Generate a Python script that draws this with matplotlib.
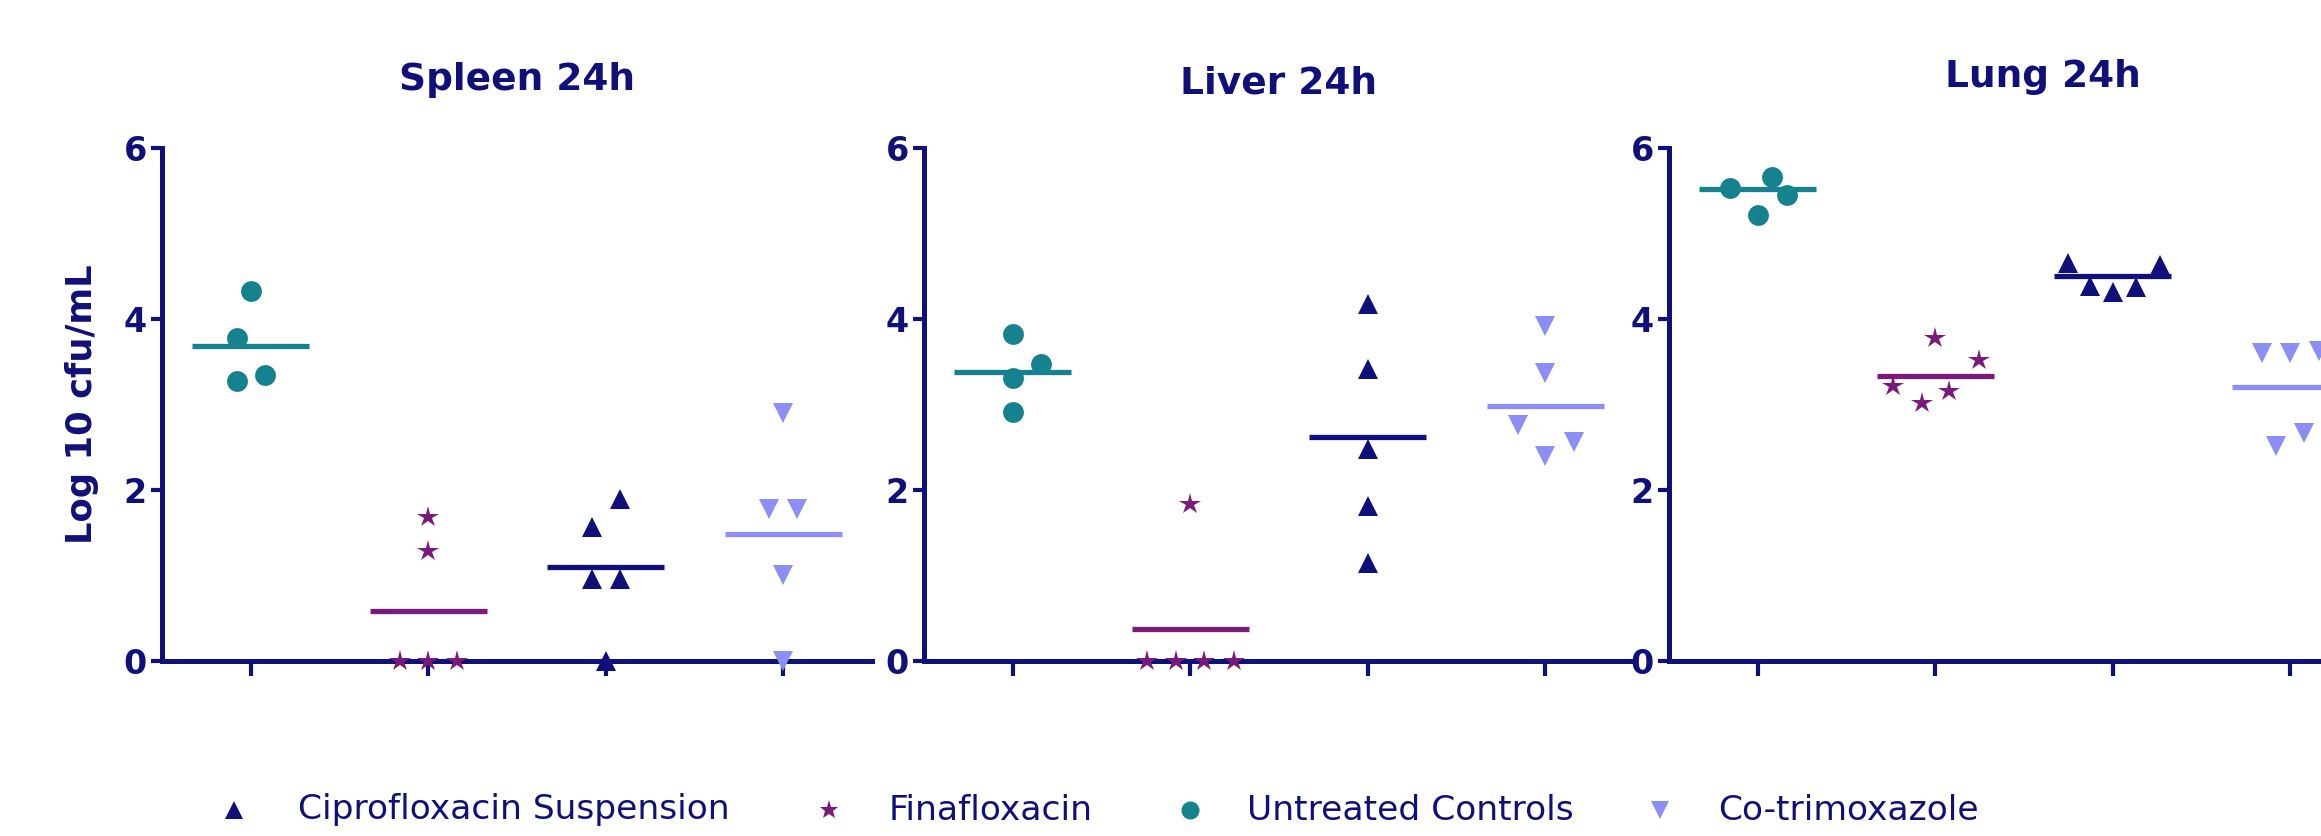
import numpy as np
import matplotlib.pyplot as plt

plt.rcParams['font.family'] = ['DejaVu Sans']

# colours taken from the figure
NAVY = '#10107a'
TEAL = '#16818f'
PURPLE = '#7a1a7a'
LIGHT = '#8a8ef5'

# group order on the x axis
groups = ['Untreated Controls', 'Finafloxacin', 'Ciprofloxacin Suspension', 'Co-trimoxazole']
panel_titles = ['Spleen 24h', 'Liver 24h', 'Lung 24h']

# log10 cfu/mL per animal, one list per group (order as in groups)
spleen = [
    [4.33, 3.78, 3.27, 3.35],
    [1.68, 1.29, 0.0, 0.0, 0.0],
    [1.90, 1.57, 0.96, 0.96, 0.0],
    [2.90, 1.78, 1.78, 1.01, 0.0],
]
liver = [
    [3.82, 3.47, 3.31, 2.91],
    [1.84, 0.0, 0.0, 0.0, 0.0],
    [4.17, 3.41, 2.48, 1.81, 1.15],
    [3.92, 3.37, 2.76, 2.56, 2.40],
]
lung = [
    [5.53, 5.66, 5.45, 5.22],
    [3.78, 3.52, 3.22, 3.16, 3.02],
    [4.66, 4.63, 4.39, 4.38, 4.32],
    [3.60, 3.60, 3.63, 2.51, 2.67],
]

# group means as drawn (horizontal bars)
spleen_mean = [3.69, 0.59, 1.10, 1.48]
liver_mean = [3.38, 0.37, 2.62, 2.98]
lung_mean = [5.52, 3.33, 4.50, 3.20]

# horizontal scatter of the points inside each group
spleen_dx = [
    [0.0, -0.08, -0.08, 0.08],
    [0.0, 0.0, -0.16, 0.0, 0.16],
    [0.08, -0.08, -0.08, 0.08, 0.0],
    [0.0, -0.08, 0.08, 0.0, 0.0],
]
liver_dx = [
    [0.0, 0.16, 0.0, 0.0],
    [0.0, -0.245, -0.08, 0.08, 0.245],
    [0.0, 0.0, 0.0, 0.0, 0.0],
    [0.0, 0.0, -0.155, 0.16, 0.0],
]
lung_dx = [
    [-0.156, 0.083, 0.164, 0.0],
    [0.0, 0.245, -0.24, 0.08, -0.076],
    [-0.252, 0.264, -0.126, 0.131, 0.0],
    [-0.16, 0.0, 0.16, -0.08, 0.08],
]

styles = {
    'Untreated Controls': dict(marker='o', color=TEAL, ms=15),
    'Finafloxacin': dict(marker='*', color=PURPLE, ms=16),
    'Ciprofloxacin Suspension': dict(marker='^', color=NAVY, ms=15),
    'Co-trimoxazole': dict(marker='v', color=LIGHT, ms=15),
}

W, H = 2321, 836
fig = plt.figure(figsize=(W / 100, H / 100), dpi=100)

ax_left_px = [162, 924, 1669]
title_pad = [42, 39, 44]
title_x = [0.5, 0.5, 0.527]
panels = [(spleen, spleen_dx, spleen_mean), (liver, liver_dx, liver_mean), (lung, lung_dx, lung_mean)]

for p, (vals, dxs, means) in enumerate(panels):
    ax = fig.add_axes([ax_left_px[p] / W, 1 - 661 / H, 710 / W, 513 / H])
    for i, g in enumerate(groups):
        st = styles[g]
        x = i + 1 + np.array(dxs[i])
        ax.plot(x, vals[i], linestyle='none', marker=st['marker'], ms=st['ms'],
                color=st['color'], mec=st['color'], mew=0, clip_on=False, zorder=4)
        ax.hlines(means[i], i + 1 - 0.33, i + 1 + 0.33, color=st['color'], lw=3.8, zorder=3)
    ax.set_xlim(0.5, 4.5)
    ax.set_ylim(0, 6)
    ax.set_xticks([1, 2, 3, 4])
    ax.set_xticklabels([])
    ax.set_yticks([0, 2, 4, 6])
    for s in ['top', 'right']:
        ax.spines[s].set_visible(False)
    for s in ['left', 'bottom']:
        ax.spines[s].set_color(NAVY)
        ax.spines[s].set_linewidth(3.6)
    ax.tick_params(axis='x', length=11, width=3, color=NAVY)
    ax.tick_params(axis='y', length=8, width=3, color=NAVY, labelcolor=NAVY,
                   labelsize=24, pad=3)
    for lbl in ax.get_yticklabels():
        lbl.set_fontweight('bold')
    ax.set_title(panel_titles[p], fontsize=27, fontweight='bold', color=NAVY,
                 pad=title_pad[p], x=title_x[p])
    ax.patch.set_alpha(0)
    if p == 0:
        ax.set_ylabel('Log 10 cfu/mL', fontsize=25.5, fontweight='bold', color=NAVY)
        ax.yaxis.set_label_coords(-0.089, 0.5)

# legend row along the bottom
leg = fig.add_axes([0, 0, 1, 1])
leg.set_xlim(0, W)
leg.set_ylim(H, 0)
leg.axis('off')
legend_order = ['Ciprofloxacin Suspension', 'Finafloxacin', 'Untreated Controls', 'Co-trimoxazole']
legend_marker_x = [234, 829, 1190, 1660]
legend_text_x = [298, 889, 1247, 1718]
legend_ms = {'Ciprofloxacin Suspension': 13, 'Finafloxacin': 14,
             'Untreated Controls': 13, 'Co-trimoxazole': 13}
for g, mx, tx in zip(legend_order, legend_marker_x, legend_text_x):
    st = styles[g]
    leg.plot([mx], [810], linestyle='none', marker=st['marker'], ms=legend_ms[g],
             color=st['color'], mew=0)
    leg.text(tx, 810, g, fontsize=24.8, color=NAVY, va='center', ha='left')

fig.savefig('out.png', dpi=100)
